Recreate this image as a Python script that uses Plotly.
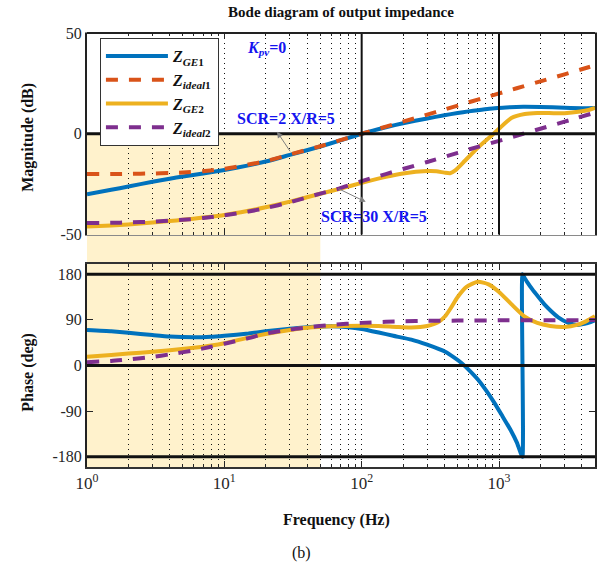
import math
import plotly.graph_objects as go

# ---------------- data ----------------
f_ge1_mag = [1, 1.5, 2, 3, 4, 5, 7, 10, 15, 20, 30, 50, 70, 100, 150, 200, 300, 400, 500,
             600, 700, 850, 1000, 1200, 1500, 2000, 3000, 4000, 5000]
mag_ge1 = [-30, -27.8, -26.2, -23.8, -22.3, -21.2, -19.7, -18, -15.7, -13.8, -10.5, -6.3, -3.3, 0,
           3.2, 5.2, 7.6, 9.2, 10.3, 11.1, 11.7, 12.4, 12.8, 13.2, 13.4, 13.3, 12.9, 12.7, 12.8]

f_id1_mag = [1, 1.5, 2, 3, 4, 5, 7, 10, 15, 20, 30, 50, 70, 100, 150, 200, 300, 400, 500,
             600, 700, 850, 1000, 1200, 1500, 2000, 3000, 4000, 5000]
mag_id1 = [-20, -20, -19.9, -19.7, -19.5, -19.2, -18.6, -17.4, -15.3, -13.6, -10.3, -6.2, -3.2, 0,
           3.5, 6, 9.5, 12, 14, 15.6, 16.9, 18.6, 20, 21.6, 23.5, 26, 29.5, 32, 34]

f_ge2_mag = [1, 1.5, 2, 3, 4, 5, 7, 10, 15, 20, 30, 50, 70, 100, 150, 200, 300, 350, 400, 440,
             480, 565, 700, 875, 1000, 1230, 1540, 1900, 2500, 3000, 3900, 4500, 5000]
mag_ge2 = [-46, -45.5, -45, -44, -43.3, -42.7, -41.6, -40.3, -38.2, -36.5, -33.7, -29.8, -27.2,
           -24.4, -21.4, -19.7, -18.5, -18.6, -19.3, -19.6, -18.2, -13.4, -7, -1.1, 2.5, 7.8, 9.8,
           10.3, 10.2, 10.2, 11, 11.8, 12.8]

f_id2_mag = [1, 1.5, 2, 3, 5, 7, 10, 15, 20, 30, 50, 70, 100, 150, 200, 300, 500, 700, 1000,
             1500, 2000, 3000, 5000]
mag_id2 = [-44.3, -44.2, -44, -43.6, -42.7, -41.8, -40.5, -38.6, -36.9, -34, -29.7, -27, -23.5,
           -20, -17.5, -14, -9.5, -6.5, -3.5, 0, 2.5, 6, 10.5]

f_ge1_ph = [1, 1.5, 2, 3, 4, 6, 8, 10, 15, 20, 30, 40, 60, 80, 100, 133, 170, 230, 300, 406,
            470, 533, 610, 704, 810, 928, 1060, 1220, 1350, 1480, 1480, 1540, 1600,
            1750, 1950, 2150, 2400, 2700, 3200, 3700, 4200, 4700, 5000]
ph_ge1 = [70, 67.5, 64.5, 60, 57, 55.5, 56.5, 58.5, 63, 67.5, 72.5, 75.5, 77.5, 75.5, 72, 65,
          58.5, 51, 41, 27, 16, 5, -10, -28, -50, -74, -100, -128, -152, -180, 180,
          172, 165, 150, 134, 120, 107, 95, 84, 80, 82, 86, 89]

f_ge2_ph = [1, 1.5, 2, 3, 4, 6, 8, 10, 15, 20, 30, 40, 60, 100, 133, 180, 230, 300, 360, 405,
            450, 500, 580, 700, 840, 1000, 1230, 1530, 1900, 2360, 3000, 3700, 4300, 5000]
ph_ge2 = [17, 20.5, 23.5, 27, 30, 35, 39.5, 44, 55, 62, 70, 74.5, 77.5, 78.5, 78, 76, 75, 78,
          85, 97, 115, 135, 155, 165, 160, 145, 121, 97, 84, 78, 76, 80, 87, 97]

f_id2_ph = [1, 1.5, 2, 3, 4, 6, 8, 10, 15, 20, 30, 40, 60, 100, 150, 200, 300, 500, 1000, 5000]
ph_id2 = [6.5, 9, 12, 17, 22, 30, 37, 43, 54, 63, 71, 75, 80, 84, 86, 87, 88, 88.5, 89, 89.5]

x_tickvals = [1, 10, 100, 1000]
x_ticktext = ["10<sup>0</sup>", "10<sup>1</sup>", "10<sup>2</sup>", "10<sup>3</sup>"]
mag_tickvals = [-50, 0, 50]
mag_ticktext = ["-50", "0", "50"]
ph_tickvals = [-180, -90, 0, 90, 180]
ph_ticktext = ["-180", "-90", "0", "90", "180"]

# ---------------- styling ----------------
FONT = "Liberation Serif"
BLUE = "#0072BD"
ORANGE = "#D95319"
YELLOW = "#EDB120"
PURPLE = "#7E2F8E"
TXT = "#262626"
ANN = "#1414F0"

W, H = 608, 564
ML, MR, MT, MB = 87, 10.5, 33, 97
TOP_DOM = [0.5357, 1.0]
BOT_DOM = [0.0, 0.4677]
XR = [0, math.log10(5000)]

fig = go.Figure()

def add(x, y, color, dash, name, xa, ya, legend, smoothing=0.6):
    fig.add_trace(go.Scatter(
        x=x, y=y, mode="lines", name=name, showlegend=legend,
        line=dict(color=color, width=4, dash=dash, shape="spline", smoothing=smoothing),
        xaxis=xa, yaxis=ya, hoverinfo="skip"))

DASH = "12px,11px"
add(f_ge1_mag, mag_ge1, BLUE, "solid", "<b><i>Z</i><sub><i>GE</i>1</sub></b>", "x", "y", True)
add(f_id1_mag, mag_id1, ORANGE, DASH, "<b><i>Z</i><sub><i>ideal</i>1</sub></b>", "x", "y", True)
add(f_ge2_mag, mag_ge2, YELLOW, "solid", "<b><i>Z</i><sub><i>GE</i>2</sub></b>", "x", "y", True)
add(f_id2_mag, mag_id2, PURPLE, DASH, "<b><i>Z</i><sub><i>ideal</i>2</sub></b>", "x", "y", True)

add(f_ge1_ph, ph_ge1, BLUE, "solid", "ge1ph", "x2", "y2", False, smoothing=0.4)
add(f_ge2_ph, ph_ge2, YELLOW, "solid", "ge2ph", "x2", "y2", False)
add(f_id2_ph, ph_id2, PURPLE, DASH, "id2ph", "x2", "y2", False)

minor = dict(dtick="D1", ticks="inside", ticklen=3, tickcolor=TXT,
             showgrid=True, gridcolor="#111", griddash="1px,4px", gridwidth=1.2)

common_x = dict(type="log", range=XR, tickvals=x_tickvals, ticks="inside", ticklen=6,
                tickcolor=TXT, showgrid=False, zeroline=False, minor=minor)

fig.update_layout(
    width=W, height=H,
    margin=dict(l=ML, r=MR, t=MT, b=MB),
    paper_bgcolor="white", plot_bgcolor="rgba(0,0,0,0)",
    font=dict(family=FONT, color=TXT, size=16),
    title=dict(text="<b>Bode diagram of output impedance</b>", font=dict(size=15, color="#111"),
               x=0.5, xref="paper", xanchor="center", y=1 - 12 / H, yref="container", yanchor="middle"),
    xaxis=dict(domain=[0, 1], anchor="y", showticklabels=False, mirror="allticks",
               showline=True, linecolor="#8a8a8a", linewidth=1, **common_x),
    yaxis=dict(domain=TOP_DOM, anchor="x", range=[-50, 50], tickvals=mag_tickvals,
               ticktext=mag_ticktext, ticks="inside", ticklen=6, tickcolor=TXT,
               showline=True, linecolor="#222", linewidth=2, mirror="ticks",
               showgrid=False, zeroline=False, tickfont=dict(size=16)),
    xaxis2=dict(domain=[0, 1], anchor="y2", ticktext=x_ticktext, mirror="allticks",
                showline=True, linecolor="#333", linewidth=1.5, tickfont=dict(size=17), **common_x),
    yaxis2=dict(domain=BOT_DOM, anchor="x2", range=[-200, 200], tickvals=ph_tickvals,
                ticktext=ph_ticktext, ticks="inside", ticklen=6, tickcolor=TXT,
                showline=True, linecolor="#222", linewidth=2, mirror="ticks",
                showgrid=False, zeroline=False, tickfont=dict(size=16)),
    legend=dict(x=(100 - ML) / 510.5, y=(467 - 38) / 434, xanchor="left", yanchor="top",
                bgcolor="white", bordercolor="#333", borderwidth=1,
                font=dict(size=16, color="#111"), itemwidth=62, tracegroupgap=0),
)

# shaded region (1-50 Hz, below 0 dB down to bottom of the phase plot)
zero_frac = TOP_DOM[0] + 0.5 * (TOP_DOM[1] - TOP_DOM[0])
fig.add_shape(type="rect", xref="x", yref="paper", x0=1, x1=50, y0=0, y1=zero_frac,
              fillcolor="#FFF2CC", line=dict(width=0), layer="below")

# reference lines
mag_hlines = [0]
ph_hlines = [-180, 0, 180]
mag_vlines = [100, 1000]
for v in mag_hlines:
    fig.add_shape(type="line", xref="x domain", yref="y", x0=0, x1=1, y0=v, y1=v,
                  line=dict(color="#111", width=3))
for v in ph_hlines:
    fig.add_shape(type="line", xref="x2 domain", yref="y2", x0=0, x1=1, y0=v, y1=v,
                  line=dict(color="#111", width=3))
for v in mag_vlines:
    fig.add_shape(type="line", xref="x", yref="y domain", x0=v, x1=v, y0=0, y1=1,
                  line=dict(color="#111", width=2))
# top border of magnitude plot
fig.add_shape(type="line", xref="x domain", yref="y domain", x0=0, x1=1, y0=1, y1=1,
              line=dict(color="#222", width=2))

# text annotations
fig.add_annotation(xref="paper", yref="paper", x=(267 - ML) / 510.5, y=(467 - 49) / 434,
                   text="<b><i>K</i><sub><i>pv</i></sub>=0</b>", showarrow=False,
                   font=dict(size=16, color=ANN), xanchor="center", yanchor="middle")
fig.add_annotation(xref="paper", yref="paper", x=(287 - ML) / 510.5, y=(467 - 118) / 434,
                   text="<b>SCR=2 X/R=5</b>", showarrow=False,
                   font=dict(size=16, color=ANN), xanchor="center", yanchor="middle")
fig.add_annotation(xref="paper", yref="paper", x=(375 - ML) / 510.5, y=(467 - 216) / 434,
                   text="<b>SCR=30 X/R=5</b>", showarrow=False,
                   font=dict(size=16, color=ANN), xanchor="center", yanchor="middle")
# arrows
fig.add_annotation(xref="x", yref="y", x=math.log10(24.2), y=1, ax=14, ay=21, text="",
                   showarrow=True, arrowhead=2, arrowsize=1.2, arrowwidth=1, arrowcolor="#808080")
fig.add_annotation(xref="x", yref="y", x=math.log10(107), y=-33.8, ax=-29, ay=-14, text="",
                   showarrow=True, arrowhead=2, arrowsize=1.2, arrowwidth=1, arrowcolor="#808080")

# axis titles
fig.add_annotation(xref="paper", yref="paper", x=(27.5 - ML) / 510.5, y=(467 - 137) / 434,
                   text="<b>Magnitude (dB)</b>", textangle=-90, showarrow=False,
                   font=dict(size=16, color="#111"), xanchor="center", yanchor="middle")
fig.add_annotation(xref="paper", yref="paper", x=(27.5 - ML) / 510.5, y=(467 - 372) / 434,
                   text="<b>Phase (deg)</b>", textangle=-90, showarrow=False,
                   font=dict(size=16, color="#111"), xanchor="center", yanchor="middle")
fig.add_annotation(xref="paper", yref="paper", x=(338 - ML) / 510.5, y=(467 - 520) / 434,
                   text="<b>Frequency (Hz)</b>", showarrow=False,
                   font=dict(size=16, color="#111"), xanchor="center", yanchor="middle")
fig.add_annotation(xref="paper", yref="paper", x=(303 - ML) / 510.5, y=(467 - 553) / 434,
                   text="(b)", showarrow=False,
                   font=dict(size=16, color="#111"), xanchor="center", yanchor="middle")

fig.write_html("out.html")
